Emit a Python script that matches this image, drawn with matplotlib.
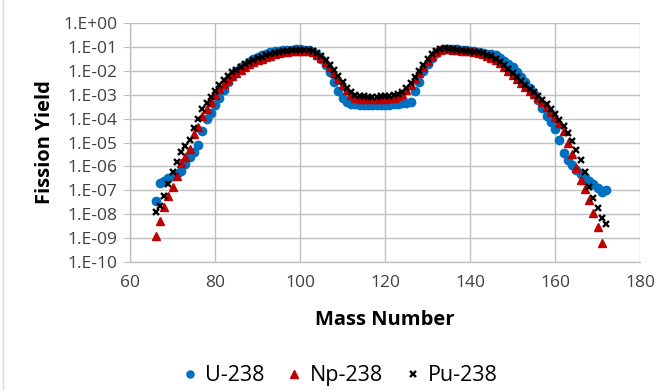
import numpy as np
import matplotlib
matplotlib.use("Agg")
import matplotlib.pyplot as plt
from matplotlib.ticker import FixedLocator, FixedFormatter, NullLocator

# mass numbers
u_mass = list(range(66, 173))
np_mass = list(range(66, 172))
pu_mass = list(range(66, 173))

# log10 of fission yield
u_log = [
    -7.45, -6.7, -6.6, -6.5, -6.4, -6.3, -6.2, -5.9, -5.6, -5.4,      # 66-75
    -5.1, -4.5, -4.0, -3.75, -3.45, -3.15, -2.8, -2.45, -2.2, -2.0,   # 76-85
    -1.85, -1.75, -1.62, -1.5, -1.42, -1.35, -1.29, -1.23, -1.19, -1.16,  # 86-95
    -1.14, -1.12, -1.11, -1.1, -1.1, -1.11, -1.14, -1.2, -1.32, -1.5,    # 96-105
    -1.75, -2.05, -2.45, -2.85, -3.15, -3.3, -3.37, -3.4, -3.42, -3.43,  # 106-115
    -3.43, -3.43, -3.43, -3.42, -3.42, -3.41, -3.4, -3.38, -3.36, -3.33,  # 116-125
    -3.3, -2.85, -2.45, -2.0, -1.7, -1.45, -1.25, -1.12, -1.08, -1.07,   # 126-135
    -1.08, -1.1, -1.12, -1.14, -1.16, -1.19, -1.22, -1.25, -1.3, -1.28,  # 136-145
    -1.35, -1.45, -1.58, -1.72, -1.85, -2.05, -2.25, -2.45, -2.7, -2.95,  # 146-155
    -3.2, -3.55, -3.9, -4.15, -4.45, -4.9, -5.45, -5.75, -5.95, -6.15,   # 156-165
    -6.3, -6.45, -6.6, -6.75, -6.9, -7.05, -7.0,                         # 166-172
]
np_log = [
    -8.9, -8.3, -7.7, -7.25, -6.85, -6.4, -5.85, -5.6, -5.25, -4.65,
    -4.35, -3.9, -3.6, -3.3, -3.0, -2.75, -2.55, -2.37, -2.22, -2.08,
    -1.95, -1.83, -1.73, -1.64, -1.56, -1.49, -1.42, -1.36, -1.31, -1.27,
    -1.23, -1.2, -1.18, -1.17, -1.16, -1.16, -1.18, -1.23, -1.32, -1.46,
    -1.64, -1.85, -2.08, -2.33, -2.58, -2.82, -3.02, -3.12, -3.16, -3.18,
    -3.19, -3.19, -3.19, -3.18, -3.17, -3.15, -3.12, -3.06, -2.96, -2.8,
    -2.58, -2.33, -2.08, -1.83, -1.58, -1.37, -1.2, -1.12, -1.09, -1.09,
    -1.11, -1.13, -1.15, -1.17, -1.19, -1.22, -1.26, -1.31, -1.37, -1.45,
    -1.56, -1.69, -1.84, -2.0, -2.16, -2.33, -2.5, -2.67, -2.83, -2.98,
    -3.14, -3.3, -3.5, -3.72, -3.95, -4.2, -4.5, -5.0, -5.5, -6.05,
    -6.55, -6.95, -7.4, -7.95, -8.55, -9.2,
]
pu_log = [
    -7.9, -7.65, -7.25, -6.75, -6.25, -5.8, -5.4, -5.15, -4.9, -4.4,
    -4.0, -3.6, -3.35, -3.1, -2.85, -2.6, -2.4, -2.22, -2.07, -1.95,
    -1.83, -1.72, -1.64, -1.56, -1.48, -1.41, -1.35, -1.3, -1.25, -1.21,
    -1.18, -1.15, -1.13, -1.12, -1.11, -1.11, -1.13, -1.18, -1.25, -1.38,
    -1.55, -1.75, -1.97, -2.2, -2.45, -2.7, -2.9, -3.02, -3.06, -3.07,
    -3.08, -3.08, -3.08, -3.07, -3.06, -3.05, -3.03, -2.98, -2.88, -2.72,
    -2.5, -2.25, -2.0, -1.75, -1.5, -1.3, -1.15, -1.08, -1.06, -1.07,
    -1.09, -1.11, -1.13, -1.15, -1.17, -1.2, -1.23, -1.27, -1.32, -1.4,
    -1.5, -1.62, -1.77, -1.93, -2.08, -2.25, -2.43, -2.6, -2.75, -2.9,
    -3.05, -3.2, -3.38, -3.58, -3.8, -4.05, -4.3, -4.6, -4.95, -5.3,
    -5.75, -6.25, -6.85, -7.3, -7.75, -8.15, -8.4,
]

u_yield = 10.0 ** np.array(u_log)
np_yield = 10.0 ** np.array(np_log)
pu_yield = 10.0 ** np.array(pu_log)

y_ticks = [10.0 ** -k for k in range(0, 11)]
y_labels = ["1.E+00"] + ["1.E-%02d" % k for k in range(1, 11)]
x_ticks = [60, 80, 100, 120, 140, 160, 180]

plt.rcParams['font.family'] = ['Open Sans', 'DejaVu Sans']

fig = plt.figure(figsize=(6.71, 3.9), dpi=100)
ax = fig.add_axes([0.194, 0.328, 0.760, 0.613])

grid_c = "#bfbfbf"
ax.plot(u_mass, u_yield, linestyle="none", marker="o", markersize=6,
        color="#0070c0", label="U-238")
ax.plot(np_mass, np_yield, linestyle="none", marker="^", markersize=6,
        color="#c00000", label="Np-238")
ax.plot(pu_mass, pu_yield, linestyle="none", marker="x", markersize=4.8,
        markeredgewidth=1.7, color="black", label="Pu-238")

ax.set_yscale("log")
ax.set_ylim(1e-10, 1.0)
ax.set_xlim(60, 180)
ax.yaxis.set_major_locator(FixedLocator(y_ticks))
ax.yaxis.set_major_formatter(FixedFormatter(y_labels))
ax.yaxis.set_minor_locator(NullLocator())
ax.set_xticks(x_ticks)

ax.grid(True, color=grid_c, linewidth=1.0)
ax.set_axisbelow(True)
for side in ["top", "right"]:
    ax.spines[side].set_visible(False)
for side in ["left", "bottom"]:
    ax.spines[side].set_color(grid_c)
    ax.spines[side].set_linewidth(1.0)
ax.tick_params(axis="y", length=5, color=grid_c, labelsize=12.5, labelcolor="#404040", pad=4)
ax.tick_params(axis="x", length=0, labelsize=12.5, labelcolor="#404040", pad=9)

ax.set_xlabel("Mass Number", fontsize=14.5, fontweight="bold", labelpad=14)
ax.set_ylabel("Fission Yield", fontsize=14.5, fontweight="bold", labelpad=6)

fig.legend(loc="lower center", bbox_to_anchor=(0.506, -0.04), ncol=3, frameon=False,
           fontsize=15.5, handlelength=0.8, handletextpad=0.3, columnspacing=1.0,
           markerscale=0.85)

# chart border, left edge
fig.add_artist(plt.Line2D([0.005, 0.005], [0.0, 1.0], color="#d9d9d9", linewidth=1.0))

fig.savefig("out.png", dpi=100)
